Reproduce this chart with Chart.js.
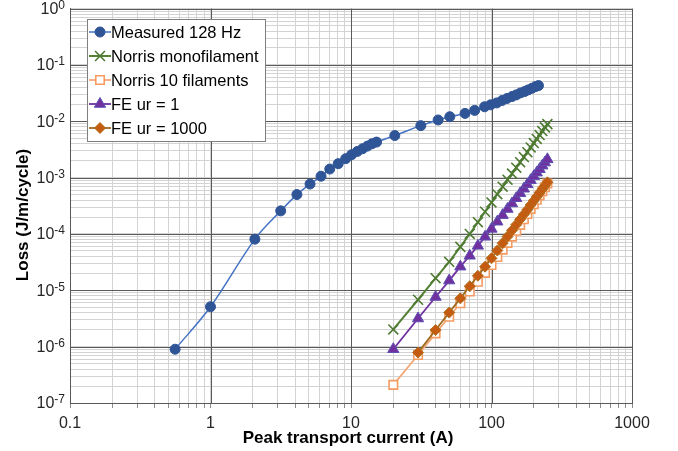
<!DOCTYPE html>
<html>
<head>
<meta charset="utf-8">
<script src="https://cdn.jsdelivr.net/npm/chart.js@4.4.1/dist/chart.umd.min.js"></script>
<style>
  html, body { margin: 0; padding: 0; background: #fff; }
  #wrap { width: 678px; height: 451px; position: relative; }
</style>
</head>
<body>
<div id="wrap"><canvas id="lossChart"></canvas></div>
<script>
// measured AC loss at 128 Hz
const measuredCurrent = [0.56, 1.0, 2.07, 3.16, 4.12, 5.11, 6.12, 7.06, 8.11, 9.17, 10.1, 11.1, 12.1, 13.1, 14.1, 15.2,
  20.5, 31.4, 41.7, 50.5, 64.8, 75.9, 89.3, 98.6, 109, 119, 129, 140, 150, 161, 172, 182, 194, 206, 216];
const measuredLoss = [9.0e-7, 5.1e-6, 8.1e-5, 2.57e-4, 5.0e-4, 7.7e-4, 1.06e-3, 1.42e-3, 1.77e-3, 2.17e-3, 2.55e-3,
  2.92e-3, 3.26e-3, 3.63e-3, 3.99e-3, 4.27e-3, 5.58e-3, 8.37e-3, 1.055e-2, 1.205e-2, 1.38e-2, 1.56e-2, 1.81e-2,
  1.96e-2, 2.12e-2, 2.34e-2, 2.54e-2, 2.75e-2, 2.94e-2, 3.19e-2, 3.37e-2, 3.60e-2, 3.85e-2, 4.13e-2, 4.30e-2];

// model currents (A)
const modelCurrent = [20, 30, 40, 50, 60, 70, 80, 90, 100, 110, 120, 130, 140, 150, 160, 170, 180, 190, 200,
  210, 220, 230, 240, 250];
const norrisMonoLoss = [2.02e-6, 6.8e-6, 1.64e-5, 3.2e-5, 5.9e-5, 1.0e-4, 1.62e-4, 2.48e-4, 3.63e-4, 5.08e-4,
  6.9e-4, 9.2e-4, 1.18e-3, 1.5e-3, 1.88e-3, 2.32e-3, 2.83e-3, 3.43e-3, 4.1e-3, 4.86e-3, 5.7e-3, 6.7e-3, 7.8e-3, 8.9e-3];
const norrisTenLoss = [2.1e-7, 7.1e-7, 1.72e-6, 3.4e-6, 5.9e-6, 9.5e-6, 1.42e-5, 2.04e-5, 2.81e-5, 3.89e-5,
  5.27e-5, 6.95e-5, 8.97e-5, 1.14e-4, 1.45e-4, 1.82e-4, 2.26e-4, 2.79e-4, 3.39e-4, 4.06e-4, 4.84e-4, 5.77e-4,
  6.75e-4, 7.89e-4];
const feUr1Loss = [9.0e-7, 3.16e-6, 7.6e-6, 1.49e-5, 2.63e-5, 4.1e-5, 6.15e-5, 8.9e-5, 1.23e-4, 1.65e-4, 2.16e-4,
  2.77e-4, 3.48e-4, 4.31e-4, 5.27e-4, 6.35e-4, 7.59e-4, 9.0e-4, 1.055e-3, 1.225e-3, 1.41e-3, 1.63e-3, 1.85e-3, 2.11e-3];
// FE ur = 1000 starts at 30 A
const feUr1000Current = modelCurrent.slice(1);
const feUr1000Loss = [7.85e-7, 1.97e-6, 4.03e-6, 7.2e-6, 1.18e-5, 1.81e-5, 2.63e-5, 3.7e-5, 5.09e-5, 6.85e-5,
  9.0e-5, 1.16e-4, 1.46e-4, 1.82e-4, 2.23e-4, 2.7e-4, 3.27e-4, 3.87e-4, 4.57e-4, 5.33e-4, 6.24e-4, 7.18e-4, 8.26e-4];

const seriesNames = ['Measured 128 Hz', 'Norris monofilament', 'Norris 10 filaments', 'FE ur = 1', 'FE ur = 1000'];

// axis ticks
const xMajorTicks = [0.1, 1, 10, 100, 1000];
const xTickLabels = ['0.1', '1', '10', '100', '1000'];
const yExponents = [-7, -6, -5, -4, -3, -2, -1, 0];
const minorSteps = [2, 3, 4, 5, 6, 7, 8, 9];

const FONT = '"Liberation Sans", Arial, sans-serif';
const MAJOR_GRID = '#595959';
const MINOR_GRID = '#d3d3d3';

function withMinors(majors) {
  const out = [];
  majors.forEach((m, i) => {
    out.push({ value: m, major: true });
    if (i < majors.length - 1) {
      minorSteps.forEach(s => out.push({ value: +(m * s).toPrecision(4), major: false }));
    }
  });
  return out;
}
const xTicks = withMinors(xMajorTicks);
const yTicks = withMinors(yExponents.map(e => Math.pow(10, e)));

function toPoints(xs, ys) {
  return ys.map((v, i) => ({ x: xs[i], y: v }));
}

// decade lines go on top of the light minor grid
const majorGrid = {
  id: 'majorGrid',
  beforeDatasetsDraw(chart) {
    const { ctx, chartArea: a, scales } = chart;
    ctx.save();
    ctx.strokeStyle = MAJOR_GRID;
    ctx.lineWidth = 1;
    ctx.beginPath();
    xMajorTicks.forEach(v => {
      const px = Math.round(scales.x.getPixelForValue(v)) + 0.5;
      ctx.moveTo(px, a.top);
      ctx.lineTo(px, a.bottom);
    });
    yExponents.forEach(e => {
      const py = Math.round(scales.y.getPixelForValue(Math.pow(10, e))) + 0.5;
      ctx.moveTo(a.left, py);
      ctx.lineTo(a.right, py);
    });
    ctx.stroke();
    ctx.restore();
  }
};

const overlay = {
  id: 'overlay',
  afterDraw(chart) {
    const { ctx, chartArea, scales } = chart;
    const ys = scales.y;
    ctx.save();

    // y labels as 10 with raised exponent
    ctx.fillStyle = '#262626';
    ctx.textAlign = 'right';
    ctx.textBaseline = 'middle';
    yExponents.forEach(e => {
      const py = ys.getPixelForValue(Math.pow(10, e));
      const sup = String(e);
      ctx.font = '12px ' + FONT;
      const w = ctx.measureText(sup).width;
      ctx.fillText(sup, 65, py - 3);
      ctx.font = '16px ' + FONT;
      ctx.fillText('10', 65 - w, py + 1);
    });

    // axis titles
    ctx.fillStyle = '#000';
    ctx.font = 'bold 17px ' + FONT;
    ctx.textAlign = 'center';
    ctx.fillText('Peak transport current (A)', (chartArea.left + chartArea.right) / 2 - 3, 438);
    ctx.save();
    ctx.translate(23, 215);
    ctx.rotate(-Math.PI / 2);
    ctx.fillText('Loss (J/m/cycle)', 0, 0);
    ctx.restore();

    // legend box
    const bx = 87, by = 19, bw = 178, bh = 122;
    ctx.fillStyle = '#fff';
    ctx.fillRect(bx, by, bw, bh);
    ctx.strokeStyle = '#7f7f7f';
    ctx.lineWidth = 1;
    ctx.strokeRect(bx + 0.5, by + 0.5, bw, bh);

    chart.data.datasets.forEach((ds, i) => {
      const cy = 32 + i * 24;
      ctx.strokeStyle = ds.borderColor;
      ctx.lineWidth = ds.borderWidth;
      ctx.beginPath();
      ctx.moveTo(89, cy);
      ctx.lineTo(111, cy);
      ctx.stroke();
      ctx.fillStyle = ds.pointBackgroundColor;
      ctx.strokeStyle = ds.pointBorderColor;
      ctx.lineWidth = ds.pointBorderWidth;
      Chart.helpers.drawPoint(ctx, {
        pointStyle: ds.pointStyle, radius: ds.pointRadius, borderWidth: ds.pointBorderWidth, rotation: 0
      }, 100, cy);
      ctx.fillStyle = '#000';
      ctx.font = '16.5px ' + FONT;
      ctx.textAlign = 'left';
      ctx.textBaseline = 'middle';
      ctx.fillText(ds.label, 111, cy + 1);
    });

    ctx.restore();
  }
};

new Chart(document.getElementById('lossChart'), {
  type: 'line',
  data: {
    datasets: [
      {
        label: seriesNames[0],
        data: toPoints(measuredCurrent, measuredLoss),
        borderColor: '#4472c4', borderWidth: 1.5, tension: 0.35,
        pointStyle: 'circle', pointRadius: 5, pointBorderWidth: 1,
        pointBackgroundColor: '#2f5597', pointBorderColor: '#2f5597',
        order: 4
      },
      {
        label: seriesNames[1],
        data: toPoints(modelCurrent, norrisMonoLoss),
        borderColor: '#548235', borderWidth: 2, tension: 0,
        pointStyle: 'crossRot', pointRadius: 7, pointBorderWidth: 1.6,
        pointBackgroundColor: '#548235', pointBorderColor: '#4e7a32',
        order: 3
      },
      {
        label: seriesNames[2],
        data: toPoints(modelCurrent, norrisTenLoss),
        borderColor: '#f4a878', borderWidth: 1.8, tension: 0,
        pointStyle: 'rect', pointRadius: 6, pointBorderWidth: 1.6,
        pointBackgroundColor: '#ffffff', pointBorderColor: '#f59b62',
        order: 2
      },
      {
        label: seriesNames[3],
        data: toPoints(modelCurrent, feUr1Loss),
        borderColor: '#7030a0', borderWidth: 1.8, tension: 0,
        pointStyle: 'triangle', pointRadius: 6.5, pointBorderWidth: 1,
        pointBackgroundColor: '#7030a0', pointBorderColor: '#5b50b0',
        order: 1
      },
      {
        label: seriesNames[4],
        data: toPoints(feUr1000Current, feUr1000Loss),
        borderColor: '#9c6a1c', borderWidth: 1.8, tension: 0,
        pointStyle: 'rectRot', pointRadius: 5.5, pointBorderWidth: 1,
        pointBackgroundColor: '#c55a11', pointBorderColor: '#b07020',
        order: 0
      }
    ]
  },
  options: {
    responsive: true,
    maintainAspectRatio: false,
    animation: false,
    layout: { padding: { left: 0, right: 46, top: 5, bottom: 0 } },
    plugins: { legend: { display: false }, tooltip: { enabled: false } },
    scales: {
      x: {
        type: 'logarithmic',
        min: 0.1, max: 1000,
        afterBuildTicks: scale => { scale.ticks = xTicks.map(t => ({ ...t })); },
        afterFit: scale => { scale.height = 48; },
        grid: { color: MINOR_GRID, lineWidth: 1, drawTicks: true, tickLength: 5, tickColor: '#8c8c8c' },
        border: { color: MAJOR_GRID, width: 1 },
        ticks: {
          autoSkip: false, maxRotation: 0, padding: 6, color: '#262626',
          font: { family: FONT, size: 16 },
          callback: v => {
            const i = xMajorTicks.indexOf(v);
            return i >= 0 ? xTickLabels[i] : '';
          }
        }
      },
      y: {
        type: 'logarithmic',
        min: 1e-7, max: 1,
        afterBuildTicks: scale => { scale.ticks = yTicks.map(t => ({ ...t })); },
        afterFit: scale => { scale.width = 70; },
        grid: { color: MINOR_GRID, lineWidth: 1, drawTicks: false },
        border: { color: MAJOR_GRID, width: 1 },
        ticks: { display: false }
      }
    }
  },
  plugins: [majorGrid, overlay]
});
</script>
</body>
</html>
